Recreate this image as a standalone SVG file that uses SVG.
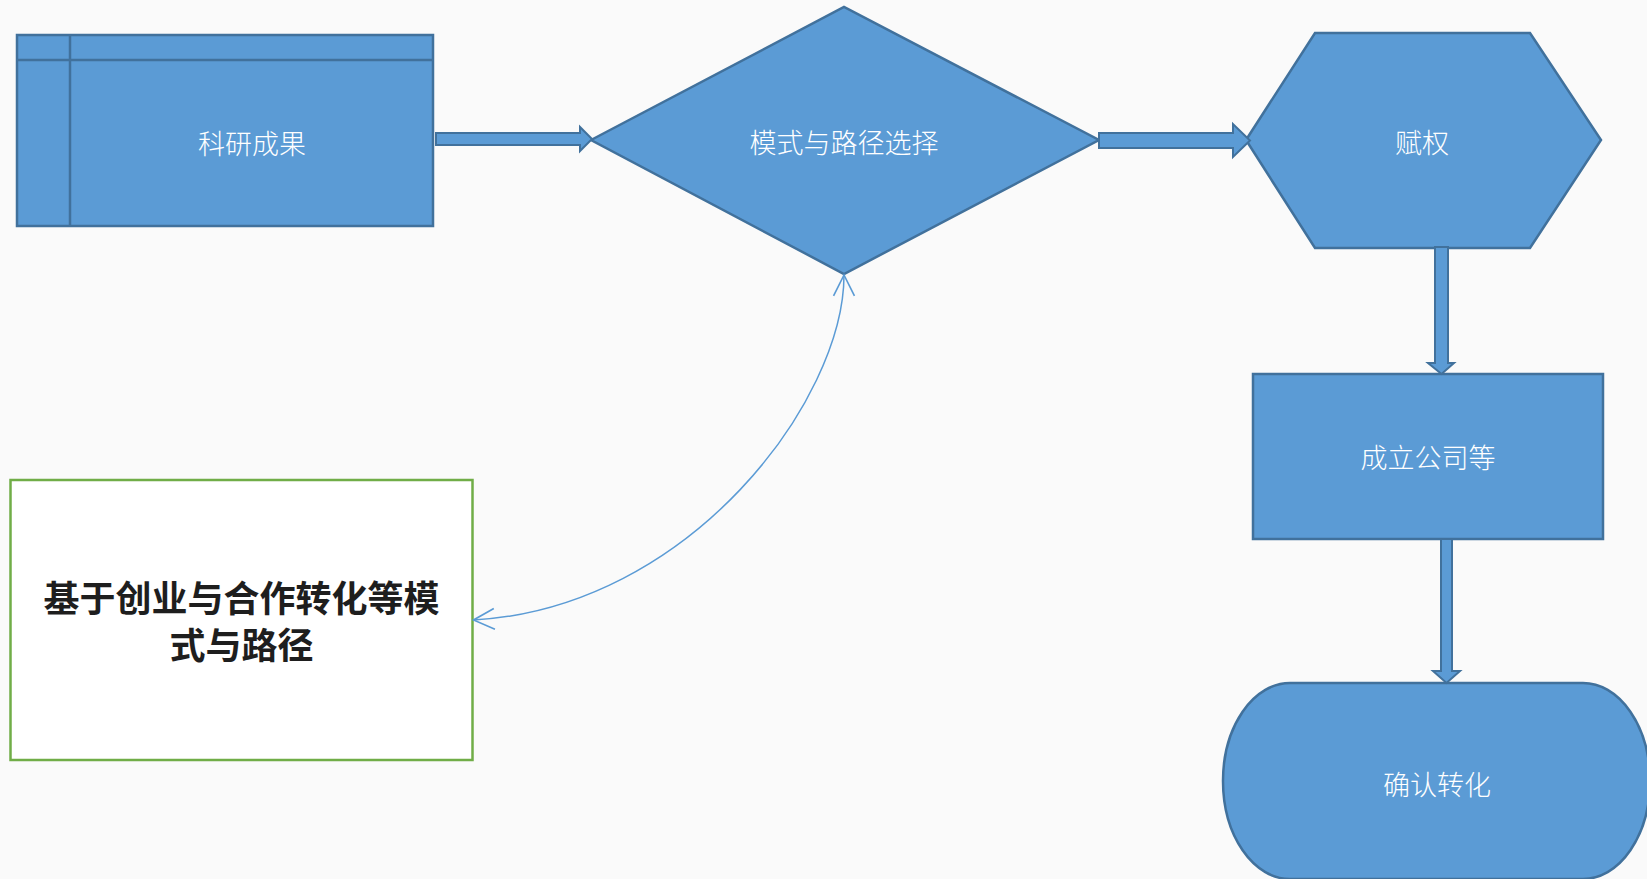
<svg xmlns="http://www.w3.org/2000/svg" width="1647" height="879" viewBox="0 0 1647 879">
<defs>
<style>
.shape{fill:#5B9BD5;stroke:#41719C;stroke-width:2.5}
.barrow{fill:#5B9BD5;stroke:#41719C;stroke-width:2;stroke-linejoin:miter}
.lbl{font-family:"Noto Sans CJK SC","Noto Sans",sans-serif;font-size:27px;font-weight:300;fill:#FFFFFF;text-anchor:middle;dominant-baseline:central}
.big{font-family:"Noto Sans CJK SC","Noto Sans",sans-serif;font-size:36px;font-weight:bold;fill:#1E1E1E;text-anchor:middle;dominant-baseline:central}
</style>
<marker id="open" markerUnits="userSpaceOnUse" markerWidth="22" markerHeight="22" viewBox="0 0 20 20" refX="19" refY="10" orient="auto-start-reverse" overflow="visible">
<path d="M0,0.5 L19,10 L0,19.5" fill="none" stroke="#5B9BD5" stroke-width="1.5"/>
</marker>
</defs>
<rect x="0" y="0" width="1647" height="879" fill="#FAFAFA"/>
<g id="node-result">
<rect class="shape" x="17" y="35" width="416" height="191"/>
<line x1="17" y1="60" x2="433" y2="60" stroke="#41719C" stroke-width="2.5"/>
<line x1="70" y1="35" x2="70" y2="226" stroke="#41719C" stroke-width="2.5"/>
<text class="lbl" x="252" y="142">科研成果</text>
</g>
<g id="node-choice">
<polygon class="shape" points="591,140 844,7 1099,140 844,274"/>
<text class="lbl" x="844" y="141">模式与路径选择</text>
</g>
<g id="node-empower">
<polygon class="shape" points="1246,140 1315,33 1530,33 1601,140 1530,248 1315,248"/>
<text class="lbl" x="1422" y="141">赋权</text>
</g>
<g id="node-company">
<rect class="shape" x="1253" y="374" width="350" height="165"/>
<text class="lbl" x="1428" y="456">成立公司等</text>
</g>
<g id="node-confirm">
<path class="shape" d="M1290,683 H1583 A67,98 0 0 1 1583,879 H1290 A67,98 0 0 1 1290,683 Z"/>
<text class="lbl" x="1437" y="783">确认转化</text>
</g>
<g id="node-note">
<rect x="10.5" y="480" width="462" height="280" fill="#FFFFFF" stroke="#70AD47" stroke-width="2.5"/>
<text class="big" x="241.5" y="596">基于创业与合作转化等模</text>
<text class="big" x="241.5" y="643">式与路径</text>
</g>
<g id="connectors">
<polygon class="barrow" points="436,133 580,133 580,127 592,139 580,151 580,145 436,145"/>
<polygon class="barrow" points="1099,133 1233,133 1233,124 1250,140.5 1233,157 1233,148 1099,148"/>
<polygon class="barrow" points="1435,247 1448,247 1448,363 1454,363 1441.5,374 1428,363 1435,363"/>
<polygon class="barrow" points="1441,539 1452,539 1452,671 1460,671 1446.5,683 1433,671 1441,671"/>
<path d="M844,275 C844,400 690,608 473.5,620" fill="none" stroke="#5B9BD5" stroke-width="1.5" marker-start="url(#open)" marker-end="url(#open)"/>
</g>
</svg>
